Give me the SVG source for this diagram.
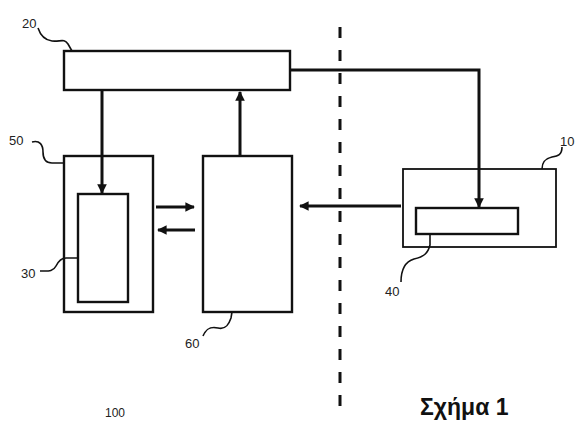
<svg xmlns="http://www.w3.org/2000/svg" width="575" height="421" viewBox="0 0 575 421">
<style>
.box{fill:none;stroke:#111;stroke-width:2.4}
.thin{fill:none;stroke:#111;stroke-width:1.8}
.arr{fill:none;stroke:#111;stroke-width:3}
.lead{fill:none;stroke:#111;stroke-width:1.6}
.lbl{font-family:"Liberation Sans",Arial,sans-serif;font-size:13px;fill:#222}
</style>
<defs>
<marker id="ah" viewBox="0 0 10 10" refX="9" refY="5" markerWidth="3.2" markerHeight="3.2" orient="auto" markerUnits="strokeWidth">
<path d="M0,0 L10,5 L0,10 z" fill="#111"/>
</marker>
</defs>
<rect width="575" height="421" fill="#fff"/>
<g id="node20"><rect class="box" x="64" y="51" width="226" height="39"/><text class="lbl" x="22" y="28">20</text><path class="lead" d="M38,28 C40,34 44,40 52,41 C60,42 64,38 68,44 L72,51"/></g>
<g id="node50"><rect class="box" x="64" y="156" width="89" height="156"/><text class="lbl" x="9" y="145">50</text><path class="lead" d="M32,142 C40,140 43,145 43,152 C43,160 46,163 52,163 L64,163"/></g>
<g id="node30"><rect class="box" x="78" y="194" width="50" height="108"/><text class="lbl" x="21" y="278">30</text><path class="lead" d="M40,271 C48,271 53,272 56,266 C59,260 62,258 66,258 L78,258"/></g>
<g id="node60"><rect class="box" x="203" y="156" width="89" height="156"/><text class="lbl" x="185" y="348">60</text><path class="lead" d="M203,336 C206,329 210,326 218,328 C226,330 229,324 231,318 L232,312"/></g>
<g id="node10"><rect class="thin" x="403" y="169" width="153" height="78"/><text class="lbl" x="560" y="146">10</text><path class="lead" d="M562,147 C562,155 558,156 552,157 C544,159 542,163 542,169"/></g>
<g id="node40"><rect class="box" x="416" y="208" width="102" height="26"/><text class="lbl" x="385" y="296">40</text><path class="lead" d="M401,282 C401,272 404,262 414,259 C424,257 428,253 430,245 L430,234"/></g>
<g id="connectors">
<line x1="340" y1="27" x2="340" y2="418" stroke="#111" stroke-width="3" stroke-dasharray="11,12"/>
<line class="arr" x1="102" y1="90" x2="102" y2="193" marker-end="url(#ah)"/>
<line class="arr" x1="240" y1="156" x2="240" y2="92" marker-end="url(#ah)"/>
<polyline class="arr" points="290,70 479,70 479,207" marker-end="url(#ah)"/>
<line class="arr" x1="401" y1="206" x2="300" y2="206" marker-end="url(#ah)"/>
<line class="arr" x1="156" y1="207" x2="194" y2="207" marker-end="url(#ah)"/>
<line class="arr" x1="195" y1="230" x2="158" y2="230" marker-end="url(#ah)"/>
</g>
<text x="105" y="417" font-family="Liberation Sans, Arial, sans-serif" font-size="12" fill="#222">100</text>
<text x="420" y="415" font-family="Liberation Sans, Arial, sans-serif" font-size="23" font-weight="bold" fill="#111">Σχήμα 1</text>
</svg>
